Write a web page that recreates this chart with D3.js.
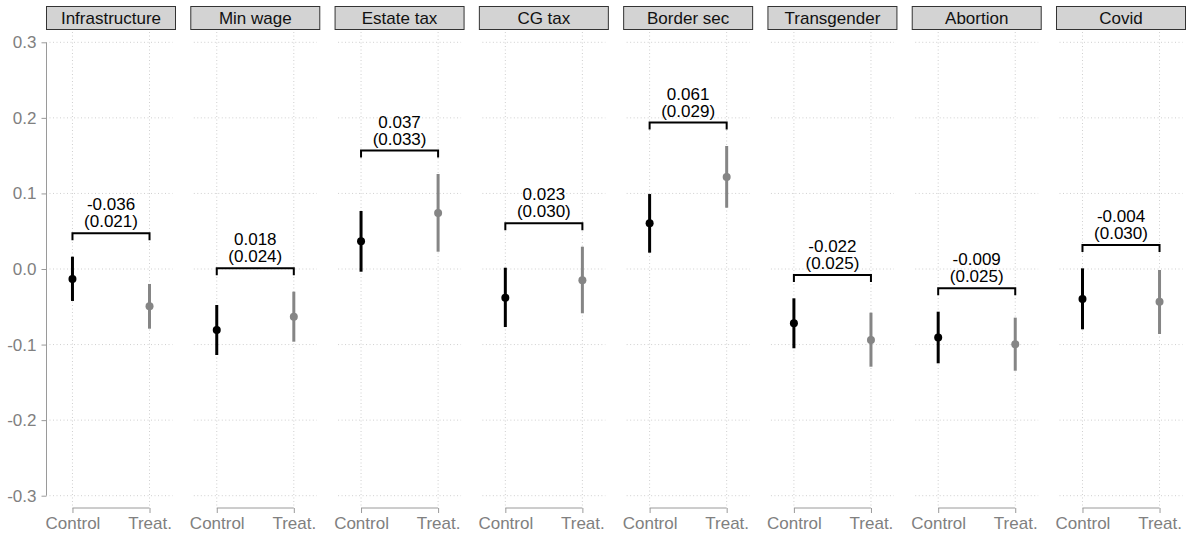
<!DOCTYPE html>
<html>
<head>
<meta charset="utf-8">
<script src="https://cdn.jsdelivr.net/npm/d3@7"></script>
<style>
  html, body { margin: 0; padding: 0; background: #fff; }
  svg { display: block; font-family: "Liberation Sans", Arial, Helvetica, sans-serif; }
</style>
</head>
<body>
<svg id="chart" width="1190" height="537"></svg>
<script>
// Policy topics, one facet each
const topics = ["Infrastructure", "Min wage", "Estate tax", "CG tax", "Border sec", "Transgender", "Abortion", "Covid"];
const groups = ["Control", "Treat."];

// Group means with 95% interval bounds
const controlMean  = [-0.0132, -0.0807, 0.0367, -0.0380, 0.0606, -0.0719, -0.0905, -0.0397];
const controlLower = [-0.0423, -0.1138, -0.0036, -0.0768, 0.0216, -0.1049, -0.1248, -0.0798];
const controlUpper = [ 0.0163, -0.0476, 0.0768,  0.0017, 0.0992, -0.0388, -0.0565,  0.0009];
const treatMean    = [-0.0494, -0.0631, 0.0741, -0.0150, 0.1216, -0.0940, -0.0995, -0.0433];
const treatLower   = [-0.0790, -0.0962, 0.0229, -0.0586, 0.0811, -0.1293, -0.1346, -0.0860];
const treatUpper   = [-0.0198, -0.0300, 0.1257,  0.0295, 0.1628, -0.0578, -0.0644, -0.0013];

// Treatment effect estimates and standard errors
const effect = ["-0.036", "0.018", "0.037", "0.023", "0.061", "-0.022", "-0.009", "-0.004"];
const stdErr = ["(0.021)", "(0.024)", "(0.033)", "(0.030)", "(0.029)", "(0.025)", "(0.025)", "(0.030)"];

const yTicks = [-0.3, -0.2, -0.1, 0.0, 0.1, 0.2, 0.3];

const svg = d3.select("#chart");
const FS = 17;
const gridColor = "#cfcfcf";
const axisColor = "#9a9a9a";
const axisText = "#808080";
const treatColor = "#858585";

const panelTop = 30, panelBottom = 508;

const facet = d3.scaleBand().domain(topics).range([46.5, 1185.5]).paddingInner(0.106).paddingOuter(0);
const y = d3.scaleLinear().domain([-0.3, 0.3]).range([495.7, 42.3]);

// Y axis as a range frame
const yAxisX = facet.range()[0];
const yAxisG = svg.append("g").attr("transform", `translate(${yAxisX},0)`)
  .call(d3.axisLeft(y).tickValues(yTicks).tickFormat(d3.format(".1f")).tickSize(5).tickPadding(5));
yAxisG.select(".domain").attr("d", `M0,${y(0.3)}V${y(-0.3)}`).attr("stroke", axisColor);
yAxisG.selectAll(".tick line").attr("stroke", axisColor);
yAxisG.selectAll(".tick text").attr("fill", axisText).attr("font-size", FS)
  .text(d => d3.format(".1f")(d).replace("−", "-"));

topics.forEach((topic, i) => {
  const x0 = facet(topic), w = facet.bandwidth();
  const x = d3.scalePoint().domain(groups).range([x0, x0 + w]).padding(0.337);
  const g = svg.append("g");

  // dotted grid
  g.selectAll("line.hgrid").data(yTicks).join("line")
    .attr("x1", x0 + 3).attr("x2", x0 + w - 3)
    .attr("y1", d => y(d)).attr("y2", d => y(d))
    .attr("stroke", gridColor).attr("stroke-width", 1).attr("stroke-dasharray", "1 2.5");
  g.selectAll("line.vgrid").data(groups).join("line")
    .attr("x1", d => x(d)).attr("x2", d => x(d))
    .attr("y1", panelTop + 2).attr("y2", panelBottom)
    .attr("stroke", gridColor).attr("stroke-width", 1).attr("stroke-dasharray", "1 2.5");

  // facet strip
  g.append("rect").attr("x", x0).attr("y", 6.5).attr("width", w).attr("height", 23)
    .attr("fill", "#d3d3d3").attr("stroke", "#333").attr("stroke-width", 1);
  g.append("text").attr("x", x0 + w / 2).attr("y", 23.5).attr("text-anchor", "middle")
    .attr("font-size", FS).attr("fill", "#111").text(topic);

  // x axis range frame
  const xAxisG = g.append("g").attr("transform", `translate(0,${panelBottom})`)
    .call(d3.axisBottom(x).tickSize(5).tickPadding(4));
  xAxisG.select(".domain").attr("d", `M${x("Control")},0H${x("Treat.")}`).attr("stroke", axisColor);
  xAxisG.selectAll(".tick line").attr("stroke", axisColor);
  xAxisG.selectAll(".tick text").attr("fill", axisText).attr("font-size", FS);

  // intervals and means
  const rows = [
    { grp: "Control", m: controlMean[i], lo: controlLower[i], hi: controlUpper[i], c: "#000" },
    { grp: "Treat.",  m: treatMean[i],   lo: treatLower[i],   hi: treatUpper[i],   c: treatColor }
  ];
  g.selectAll("line.ci").data(rows).join("line")
    .attr("x1", d => x(d.grp)).attr("x2", d => x(d.grp))
    .attr("y1", d => y(d.lo)).attr("y2", d => y(d.hi))
    .attr("stroke", d => d.c).attr("stroke-width", 3);
  g.selectAll("circle").data(rows).join("circle")
    .attr("cx", d => x(d.grp)).attr("cy", d => y(d.m)).attr("r", 4)
    .attr("fill", d => d.c);

  // bracket with effect estimate
  const top = Math.max(controlUpper[i], treatUpper[i]) + 0.031;
  const by = y(top), drop = 7;
  g.append("path")
    .attr("d", `M${x("Control")},${by + drop}V${by}H${x("Treat.")}V${by + drop}`)
    .attr("fill", "none").attr("stroke", "#000").attr("stroke-width", 2);
  const cx = (x("Control") + x("Treat.")) / 2;
  g.append("text").attr("x", cx).attr("y", by - 23).attr("text-anchor", "middle")
    .attr("font-size", FS).attr("fill", "#000").text(effect[i]);
  g.append("text").attr("x", cx).attr("y", by - 6).attr("text-anchor", "middle")
    .attr("font-size", FS).attr("fill", "#000").text(stdErr[i]);
});
</script>
</body>
</html>
